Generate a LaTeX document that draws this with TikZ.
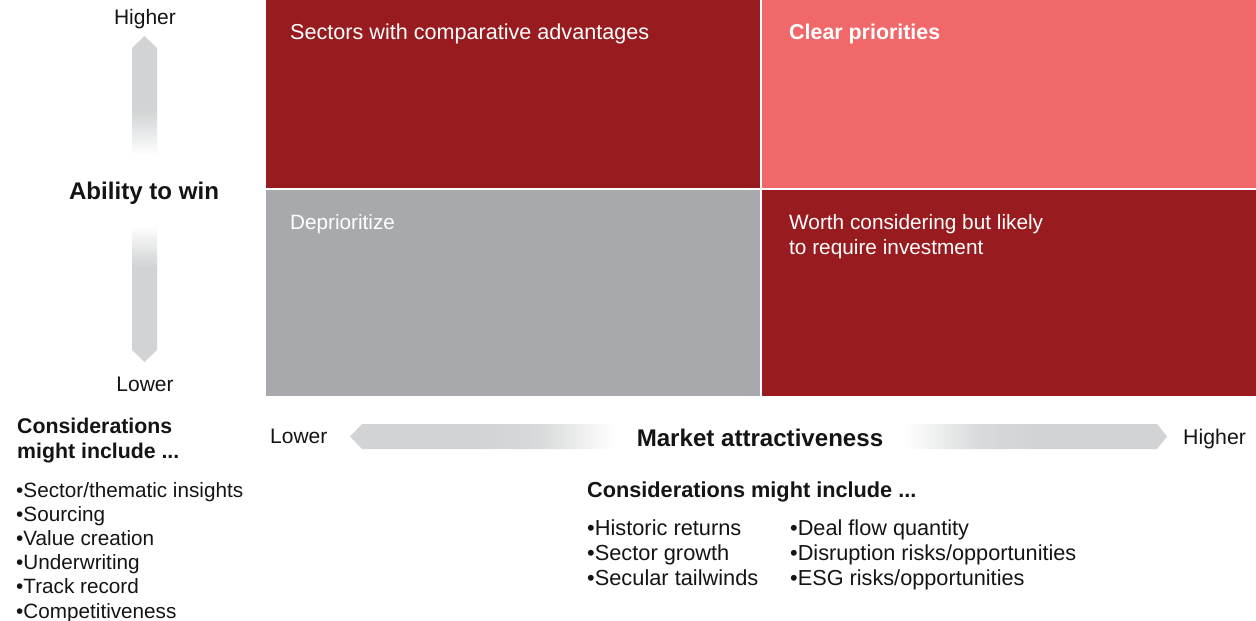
\documentclass[tikz,border=0pt]{standalone}
\usepackage{fontspec}
\setmainfont{Liberation Sans}
\definecolor{qred}{RGB}{152,27,31}
\definecolor{qpink}{RGB}{240,104,106}
\definecolor{qgray}{RGB}{167,169,172}
\definecolor{agray}{RGB}{209,211,212}
\definecolor{tblack}{RGB}{20,20,20}
\pgfdeclareverticalshading{vfade}{100bp}{color(0bp)=(agray); color(25bp)=(agray); color(39.6bp)=(agray); color(46bp)=(white); color(56.7bp)=(white); color(63.6bp)=(agray); color(75bp)=(agray); color(100bp)=(agray)}
\pgfdeclarehorizontalshading{lfade}{100bp}{color(0bp)=(agray); color(25bp)=(agray); color(50bp)=(agray); color(61bp)=(agray!85); color(75bp)=(white); color(100bp)=(white)}
\pgfdeclarehorizontalshading{rfade}{100bp}{color(0bp)=(white); color(25bp)=(white); color(39bp)=(agray!85); color(50bp)=(agray); color(75bp)=(agray); color(100bp)=(agray)}
\tikzset{
  txt/.style={inner sep=0pt, anchor=base west, font=\fontsize{21}{24}\selectfont, text=tblack},
  wtxt/.style={txt, text=white},
  btxt/.style={txt, font=\fontsize{21.7}{24}\selectfont\bfseries},
  big/.style={inner sep=0pt, anchor=base, font=\fontsize{24.1}{27}\selectfont\bfseries, text=tblack},
}
\begin{document}
\begin{tikzpicture}[x=1pt,y=-1pt]
\useasboundingbox (0,0) rectangle (1256,621);
% quadrants
\fill[qred]  (266,0)   rectangle (760,187.5);
\fill[qpink] (762,0)   rectangle (1256,187.5);
\fill[qgray] (266,189.5) rectangle (760,396);
\fill[qred]  (762,189.5) rectangle (1256,396);
\node[wtxt, font=\fontsize{21.6}{24}\selectfont] (q1) at (290,39) {Sectors with comparative advantages};
\node[wtxt, font=\fontsize{21.4}{24}\selectfont\bfseries] (q2) at (789,39) {Clear priorities};
\node[wtxt, font=\fontsize{20.7}{24}\selectfont] (q3) at (290,229) {Deprioritize};
\node[wtxt, font=\fontsize{20.8}{24}\selectfont] (q4a) at (789,229) {Worth considering but likely};
\node[wtxt, font=\fontsize{20.8}{24}\selectfont] (q4b) at (789,254) {to require investment};
% vertical arrow
\path[shading=vfade] (132,48) -- (144.5,36) -- (157,48) -- (157,350) -- (144.5,362) -- (132,350) -- cycle;
% horizontal arrow
\path[shading=lfade] (362,424) -- (350,436.5) -- (362,449) -- (614,449) -- (614,424) -- cycle;
\path[shading=rfade] (905,424) -- (1157,424) -- (1167,436.5) -- (1157,449) -- (905,449) -- cycle;
% axis labels
\node[txt, anchor=base] (vhi) at (145,24) {Higher};
\node[txt, anchor=base] (vlo) at (145,391) {Lower};
\node[big] (vt) at (144,199) {Ability to win};
\node[txt] (hlo) at (270,443) {Lower};
\node[txt, font=\fontsize{21.3}{24}\selectfont] (hhi) at (1183,444) {Higher};
\node[big] (ht) at (760,446) {Market attractiveness};
% left considerations
\node[btxt, font=\fontsize{21.3}{24}\selectfont\bfseries] (lc1) at (17,433) {Considerations};
\node[btxt, font=\fontsize{21.3}{24}\selectfont\bfseries] (lc2) at (17,458) {might include ...};
\foreach \t [count=\i] in {Sector/thematic insights, Sourcing, Value creation, Underwriting, Track record, Competitiveness}{
  \node[txt, font=\fontsize{20.7}{24}\selectfont] (lb\i) at (16,{472.8+24.2*\i}) {•\t};
}
% center considerations
\node[btxt] (mc) at (587,497) {Considerations might include ...};
\foreach \t [count=\i] in {Historic returns, Sector growth, Secular tailwinds}{
  \node[txt, font=\fontsize{21.8}{24}\selectfont] (ma\i) at (587,{510.5+25*\i}) {•\t};
}
\foreach \t [count=\i] in {Deal flow quantity, Disruption risks/opportunities, ESG risks/opportunities}{
  \node[txt, font=\fontsize{21.7}{24}\selectfont] (mb\i) at (790,{510.5+25*\i}) {•\t};
}
\end{tikzpicture}
\end{document}
